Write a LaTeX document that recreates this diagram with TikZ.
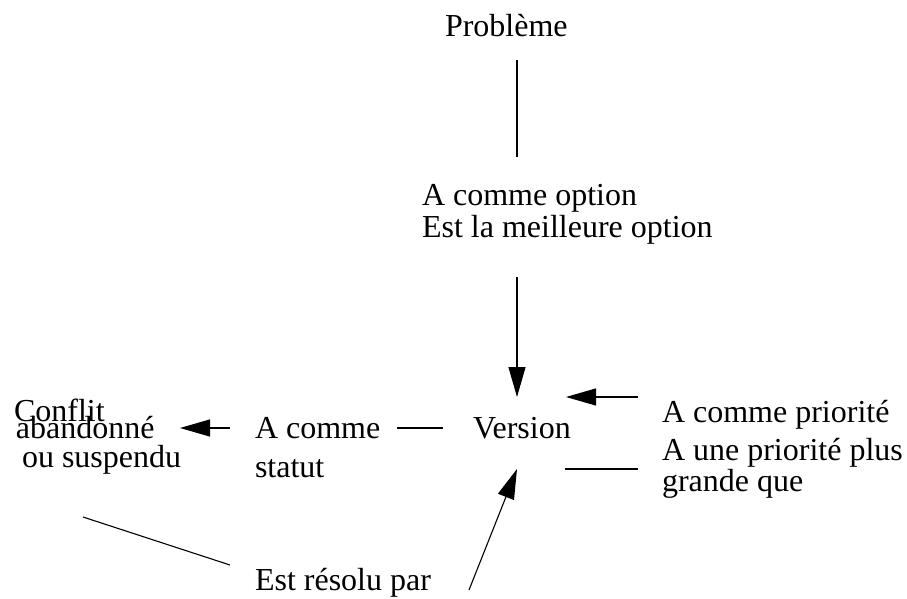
\documentclass[tikz,border=0pt]{standalone}
\usepackage{fontspec}
\setmainfont{Liberation Serif}
\usetikzlibrary{arrows.meta}
\tikzset{
  lbl/.style={inner sep=0pt, outer sep=0pt, anchor=base west, align=left, font=\fontsize{32}{37}\selectfont},
  conn/.style={line width=1.1pt},
  arr/.style={conn, -{Triangle[length=30pt,width=17pt]}},
}
\begin{document}
\begin{tikzpicture}[x=1pt,y=-1pt]
\useasboundingbox[fill=white] (0,0) rectangle (907,599);
\node[lbl] (prob) at (445,37) {Problème};
\node[lbl] (opt1) at (422,205) {A comme option};
\node[lbl] (opt2) at (422,237) {Est la meilleure option};
\node[lbl] (ver) at (473,438) {Version};
\node[lbl] (stat1) at (255,438) {A comme};
\node[lbl] (stat2) at (255,477) {statut};
\node[lbl] (conf1) at (14,421) {Conflit};
\node[lbl] (conf2) at (16,438) {abandonné};
\node[lbl] (conf3) at (22,467) {ou suspendu};
\node[lbl] (prio1) at (662,422) {A comme priorité};
\node[lbl] (prio2) at (662,460) {A une priorité plus};
\node[lbl] (prio3) at (662,491) {grande que};
\node[lbl] (res) at (255,590) {Est résolu par};
% anchor points of connectors
\coordinate (p1) at (517,60);
\coordinate (p2) at (517,157);
\coordinate (o1) at (517,277);
\coordinate (o2) at (517,397);
\coordinate (s1) at (443,428);
\coordinate (s2) at (397,428);
\coordinate (s3) at (230,428);
\coordinate (s4) at (180,428);
\coordinate (r1) at (638,397);
\coordinate (r2) at (566,397);
\coordinate (r3) at (565,469);
\coordinate (r4) at (638,469);
\coordinate (d1) at (469,590);
\coordinate (d2) at (517,469);
\coordinate (c1) at (83,517);
\coordinate (c2) at (230,565);
\draw[conn] (p1) -- (p2);
\draw[arr] (o1) -- (o2);
\draw[conn] (s1) -- (s2);
\draw[arr] (s3) -- (s4);
\draw[arr] (r1) -- (r2);
\draw[conn] (r3) -- (r4);
\draw[arr] (d1) -- (d2);
\draw[conn] (c1) -- (c2);
\end{tikzpicture}
\end{document}
